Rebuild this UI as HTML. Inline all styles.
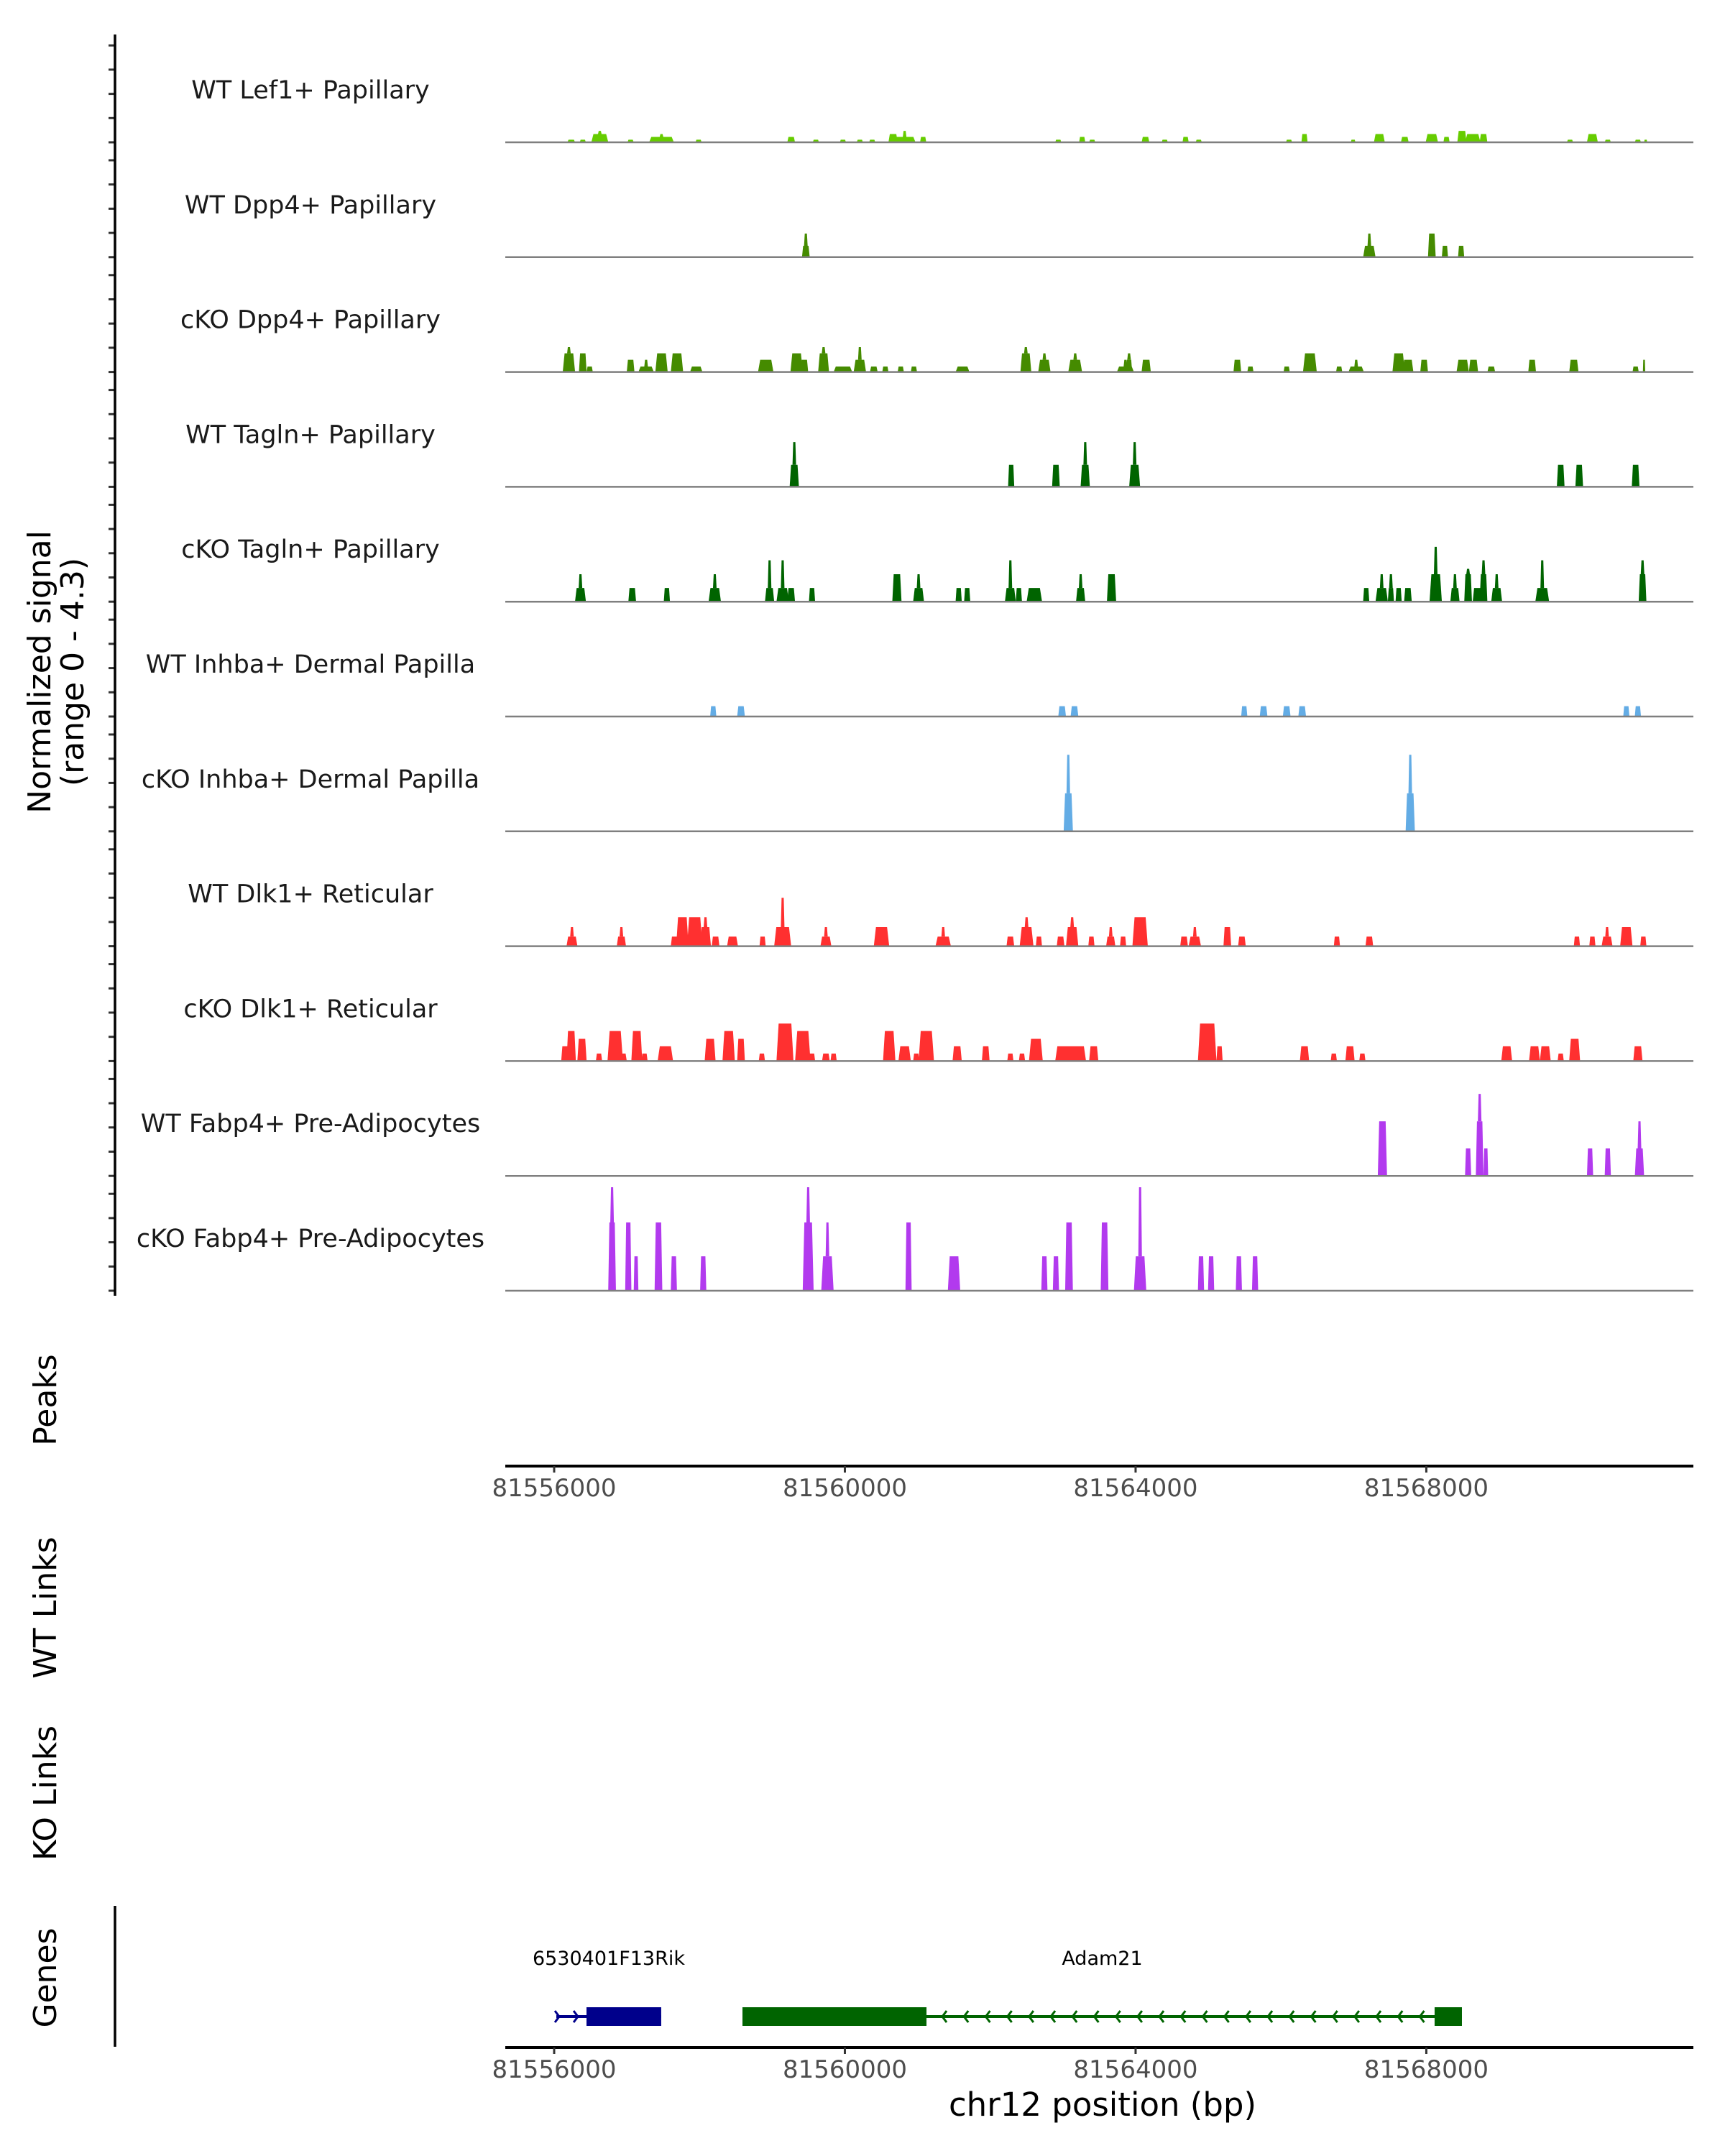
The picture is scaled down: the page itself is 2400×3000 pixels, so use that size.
<!DOCTYPE html>
<html><head><meta charset="utf-8"><style>
html,body{margin:0;padding:0;background:#fff;}
svg{display:block;font-family:"DejaVu Sans","Liberation Sans",sans-serif;}
</style></head><body>
<svg id="chart" width="2400" height="3000" viewBox="0 0 2400 3000" xmlns="http://www.w3.org/2000/svg">
<rect x="0" y="0" width="2400" height="3000" fill="#fff"/>
<g id="tracks"></g>
<g id="axes"></g>
<text transform="translate(78,935) rotate(-90)" text-anchor="middle" font-size="44" fill="#000"><tspan x="0" dy="-8">Normalized signal</tspan><tspan x="0" dy="46">(range 0 - 4.3)</tspan></text>
<text transform="translate(78,1948) rotate(-90)" text-anchor="middle" font-size="44">Peaks</text>
<text transform="translate(78,2237) rotate(-90)" text-anchor="middle" font-size="44">WT Links</text>
<text transform="translate(78,2495) rotate(-90)" text-anchor="middle" font-size="44">KO Links</text>
<text transform="translate(78,2752) rotate(-90)" text-anchor="middle" font-size="44">Genes</text>
<text x="1534" y="2944" text-anchor="middle" font-size="45">chr12 position (bp)</text>
<g id="genes"></g>
</svg>
<script>
const trackNames = ["WT Lef1+ Papillary","WT Dpp4+ Papillary","cKO Dpp4+ Papillary","WT Tagln+ Papillary","cKO Tagln+ Papillary","WT Inhba+ Dermal Papilla","cKO Inhba+ Dermal Papilla","WT Dlk1+ Reticular","cKO Dlk1+ Reticular","WT Fabp4+ Pre-Adipocytes","cKO Fabp4+ Pre-Adipocytes"];
const trackColors = ["#66cc00","#458b00","#458b00","#006400","#006400","#63ace5","#63ace5","#ff3030","#ff3030","#b23aee","#b23aee"];
const xTicks = [81556000,81560000,81564000,81568000];
// peaks: [center_bp, width_bp, value, spike_value]
const lef1WT = [[81556235,106,0.1,0],[81556394,85,0.1,0],[81556628,234,0.32,0.44],[81557052,85,0.1,0],[81557477,340,0.21,0.32],[81557987,85,0.1,0],[81559261,106,0.21,0],[81559601,85,0.1,0],[81559973,85,0.1,0],[81560206,85,0.1,0],[81560376,85,0.1,0],[81560663,127,0.32,0],[81560822,300,0.21,0.44],[81561077,85,0.21,0],[81562936,85,0.1,0],[81563265,85,0.21,0],[81563403,85,0.1,0],[81564136,106,0.21,0],[81564401,85,0.1,0],[81564688,85,0.21,0],[81564869,85,0.1,0],[81566111,85,0.1,0],[81566324,85,0.32,0],[81566993,64,0.1,0],[81567354,150,0.32,0],[81567704,106,0.21,0],[81568076,170,0.32,0],[81568278,85,0.21,0],[81568490,127,0.44,0],[81568639,212,0.32,0],[81568787,106,0.32,0],[81569977,85,0.1,0],[81570285,150,0.32,0],[81570497,85,0.1,0],[81570911,85,0.1,0],[81571018,42,0.1,0]];
const dpp4WT = [[81559463,106,0.44,0.91],[81567216,170,0.44,0.91],[81568076,106,0.91,0],[81568256,85,0.44,0],[81568479,85,0.44,0]];
const dpp4KO = [[81556203,170,0.72,0.96],[81556394,106,0.72,0],[81556489,85,0.21,0],[81557052,106,0.47,0],[81557265,212,0.21,0.47],[81557477,170,0.72,0],[81557690,170,0.72,0],[81557955,170,0.21,0],[81558911,212,0.47,0],[81559336,170,0.72,0],[81559442,106,0.47,0],[81559707,150,0.72,0.96],[81559973,255,0.21,0],[81560206,170,0.47,0.96],[81560398,106,0.21,0],[81560557,85,0.21,0],[81560769,85,0.21,0],[81560950,85,0.21,0],[81561619,190,0.21,0],[81562490,150,0.72,0.96],[81562745,170,0.47,0.72],[81563169,190,0.47,0.72],[81563860,234,0.21,0.47],[81563910,85,0.47,0.72],[81564146,127,0.47,0],[81565400,106,0.47,0],[81565580,85,0.21,0],[81566079,85,0.21,0],[81566398,190,0.72,0],[81566801,85,0.21,0],[81567035,212,0.21,0.47],[81567619,170,0.72,0],[81567747,150,0.47,0],[81567970,106,0.47,0],[81568501,170,0.47,0],[81568649,127,0.47,0],[81568894,106,0.21,0],[81569456,106,0.47,0],[81570030,127,0.47,0],[81570880,85,0.21,0],[81570996,32,0.47,0]];
const taglnWT = [[81559304,127,0.85,1.73],[81562288,85,0.85,0],[81562904,106,0.85,0],[81563307,127,0.85,1.73],[81563987,150,0.85,1.73],[81569849,106,0.85,0],[81570104,106,0.85,0],[81570880,106,0.85,0]];
const taglnKO = [[81556362,150,0.53,1.06],[81557074,106,0.53,0],[81557551,85,0.53,0],[81558210,170,0.53,1.06],[81558964,127,0.53,1.6],[81559144,170,0.53,1.6],[81559261,106,0.53,0],[81559548,85,0.53,0],[81560716,127,1.06,0],[81561014,150,0.53,1.06],[81561566,85,0.53,0],[81561683,85,0.53,0],[81562277,150,0.53,1.6],[81562394,85,0.53,0],[81562607,212,0.53,0],[81563244,127,0.53,1.06],[81563669,127,1.06,0],[81567173,85,0.53,0],[81567386,170,0.53,1.06],[81567513,85,0.53,1.06],[81567619,85,0.53,0],[81567747,106,0.53,0],[81568129,170,1.06,2.12],[81568394,127,0.53,1.06],[81568575,106,1.06,1.27],[81568702,127,0.53,0],[81568787,106,1.06,1.6],[81568968,150,0.53,1.06],[81569595,190,0.53,1.6],[81570975,106,1.06,1.6]];
const inhbaWT = [[81558189,85,0.4,0],[81558571,106,0.4,0],[81562989,106,0.4,0],[81563159,106,0.4,0],[81565495,85,0.4,0],[81565761,106,0.4,0],[81566079,106,0.4,0],[81566292,106,0.4,0],[81570752,85,0.4,0],[81570911,85,0.4,0]];
const inhbaKO = [[81563074,127,1.47,2.96],[81567779,127,1.47,2.96]];
const dlk1WT = [[81556245,150,0.37,0.74],[81556925,127,0.37,0.74],[81557658,106,0.37,0],[81557764,170,1.12,0],[81557934,212,1.12,0],[81558082,150,0.74,1.12],[81558221,106,0.37,0],[81558454,150,0.37,0],[81558868,85,0.37,0],[81559144,234,0.74,1.87],[81559739,150,0.37,0.74],[81560504,212,0.74,0],[81561353,212,0.37,0.74],[81562277,106,0.37,0],[81562500,190,0.74,1.12],[81562670,85,0.37,0],[81562968,106,0.37,0],[81563127,170,0.74,1.12],[81563392,85,0.37,0],[81563658,127,0.37,0.74],[81563828,85,0.37,0],[81564062,212,1.12,0],[81564667,106,0.37,0],[81564815,170,0.37,0.74],[81565262,106,0.74,0],[81565463,106,0.37,0],[81566770,85,0.37,0],[81567216,106,0.37,0],[81570072,85,0.37,0],[81570285,85,0.37,0],[81570487,150,0.37,0.74],[81570752,170,0.74,0],[81570986,85,0.37,0]];
const dlk1KO = [[81556150,106,0.57,0],[81556235,127,1.16,0],[81556383,127,0.86,0],[81556617,85,0.29,0],[81556840,212,1.16,0],[81556946,106,0.29,0],[81557137,150,1.16,0],[81557243,85,0.29,0],[81557530,212,0.57,0],[81558146,150,0.86,0],[81558401,170,1.16,0],[81558571,106,0.86,0],[81558858,85,0.29,0],[81559176,234,1.45,0],[81559421,212,1.16,0],[81559548,85,0.29,0],[81559739,106,0.29,0],[81559845,85,0.29,0],[81560610,170,1.16,0],[81560822,170,0.57,0],[81560982,85,0.29,0],[81561120,212,1.16,0],[81561545,127,0.57,0],[81561938,106,0.57,0],[81562277,85,0.29,0],[81562437,85,0.29,0],[81562628,190,0.86,0],[81563106,424,0.57,0],[81563424,127,0.57,0],[81564985,255,1.45,0],[81565155,85,0.57,0],[81566324,127,0.57,0],[81566727,85,0.29,0],[81566950,127,0.57,0],[81567120,85,0.29,0],[81569106,150,0.57,0],[81569488,150,0.57,0],[81569637,150,0.57,0],[81569849,85,0.29,0],[81570041,150,0.86,0],[81570911,127,0.57,0]];
const fabp4WT = [[81567396,127,2.11,0],[81568575,85,1.06,0],[81568734,106,2.11,3.17],[81568819,64,1.06,0],[81570253,85,1.06,0],[81570497,85,1.06,0],[81570933,127,1.06,2.11]];
const fabp4KO = [[81556797,106,2.64,4.0],[81557020,85,2.64,0],[81557127,64,1.33,0],[81557435,106,2.64,0],[81557647,85,1.33,0],[81558051,85,1.33,0],[81559495,150,2.64,4.0],[81559760,170,1.33,2.64],[81560876,85,2.64,0],[81561502,170,1.33,0],[81562745,85,1.33,0],[81562904,85,1.33,0],[81563084,106,2.64,0],[81563573,106,2.64,0],[81564062,170,1.33,4.0],[81564900,85,1.33,0],[81565039,85,1.33,0],[81565421,85,1.33,0],[81565644,85,1.33,0]];
const trackPeaks = [lef1WT,dpp4WT,dpp4KO,taglnWT,taglnKO,inhbaWT,inhbaKO,dlk1WT,dlk1KO,fabp4WT,fabp4KO];
const geneNames = ["6530401F13Rik","Adam21"];
const geneStarts = [81556030,81558591];
const geneEnds = [81557473,81568490];
const exonStarts = [[81556445],[81558591,81568114]];
const exonEnds = [[81557473],[81561123,81568490]];
const geneStrands = ["+","-"];
const geneColors = ["#00008b","#006400"];

const NS="http://www.w3.org/2000/svg";
const X0=771, BP0=81556000, PXPB=0.10112, VS=36;
const PL=703, PR=2356, BASE0=198, TSTEP=159.8;
function xs(bp){return X0+(bp-BP0)*PXPB;}
function el(tag,attrs,parent){const e=document.createElementNS(NS,tag);for(const k in attrs)e.setAttribute(k,attrs[k]);parent.appendChild(e);return e;}
const tg=document.getElementById('tracks');
const ax=document.getElementById('axes');
trackNames.forEach((name,i)=>{
  const base=BASE0+i*TSTEP;
  const g=el('g',{},tg);
  
  
  const lab=el('text',{x:432,y:base-71,'text-anchor':'middle','dominant-baseline':'middle','font-size':35,fill:'#1a1a1a'},g);
  lab.textContent=name;
  
  
  trackPeaks[i].forEach(p=>{
    const x0=xs(p[0]-p[1]/2), x1=xs(p[0]+p[1]/2);
    const d=Math.min((x1-x0)*0.15,3);
    const yt=base-p[2]*VS;
    const poly=el('polygon',{points:`${x0},${base} ${x0+d},${yt} ${x1-d},${yt} ${x1},${base}`,fill:trackColors[i]},g);
    
    
    if(p[3]>0){
      const xc=xs(p[0]); const ys=base-p[3]*VS;
      const sp=el('polygon',{points:`${xc-2.5},${yt} ${xc-1.5},${ys} ${xc+1.5},${ys} ${xc+2.5},${yt}`,fill:trackColors[i]},g);
      
      
    }
  });
  const bl=el('line',{x1:PL,x2:PR,y1:base,y2:base,stroke:'#7f7f7f','stroke-width':2.5},g);
  
  
  for(let k=0;k<5;k++){
    const ty=base-k*33.7;
    const t=el('line',{x1:151,x2:160,y1:ty,y2:ty,stroke:'#333','stroke-width':3},ax);
    
    
  }
});
const yl=el('line',{x1:160,x2:160,y1:48,y2:1803,stroke:'#000','stroke-width':3.5},ax);


const gl=el('line',{x1:160,x2:160,y1:2652,y2:2848,stroke:'#000','stroke-width':3.5},ax);


[2040,2849].forEach((ay,j)=>{
  const l=el('line',{x1:PL,x2:PR,y1:ay,y2:ay,stroke:'#000','stroke-width':4},ax);
  
  
  xTicks.forEach(v=>{
    const x=xs(v);
    const t=el('line',{x1:x,x2:x,y1:ay,y2:ay+9,stroke:'#333','stroke-width':3},ax);
    
    
    const tl=el('text',{x:x,y:ay+42,'text-anchor':'middle','font-size':34,fill:'#4d4d4d'},ax);
    tl.textContent=String(v);
    
    
  });
});
const gg=document.getElementById('genes');
const GY=2806;
geneNames.forEach((n,i)=>{
  const g=el('g',{},gg);
  
  
  const xa=xs(geneStarts[i]), xb=xs(geneEnds[i]);
  const c=geneColors[i];
  const ln=el('line',{x1:xa,x2:xb,y1:GY,y2:GY,stroke:c,'stroke-width':4},g);
  
  
  exonStarts[i].forEach((s,k)=>{
    const r=el('rect',{x:xs(s),y:GY-13,width:xs(exonEnds[i][k])-xs(s),height:26,fill:c},g);
    
    
  });
  let ar=[];
  if(geneStrands[i]==='+'){ar=[xa+4,xa+30];}
  else{const s=xs(exonEnds[i][0])+22, e=xs(exonStarts[i][1])-10; for(let x=s;x<=e;x+=30.2) ar.push(x);}
  ar.forEach(x=>{
    const dir=geneStrands[i]==='+'?1:-1;
    const a=el('polyline',{points:`${x-6*dir},${GY-8} ${x},${GY} ${x-6*dir},${GY+8}`,fill:'none',stroke:c,'stroke-width':3},g);
    
    
  });
  const lt=el('text',{x:(xa+xb)/2,y:GY-72,'text-anchor':'middle','font-size':27,fill:'#000'},g);
  lt.textContent=n;
  
  
});
</script>
</body></html>
